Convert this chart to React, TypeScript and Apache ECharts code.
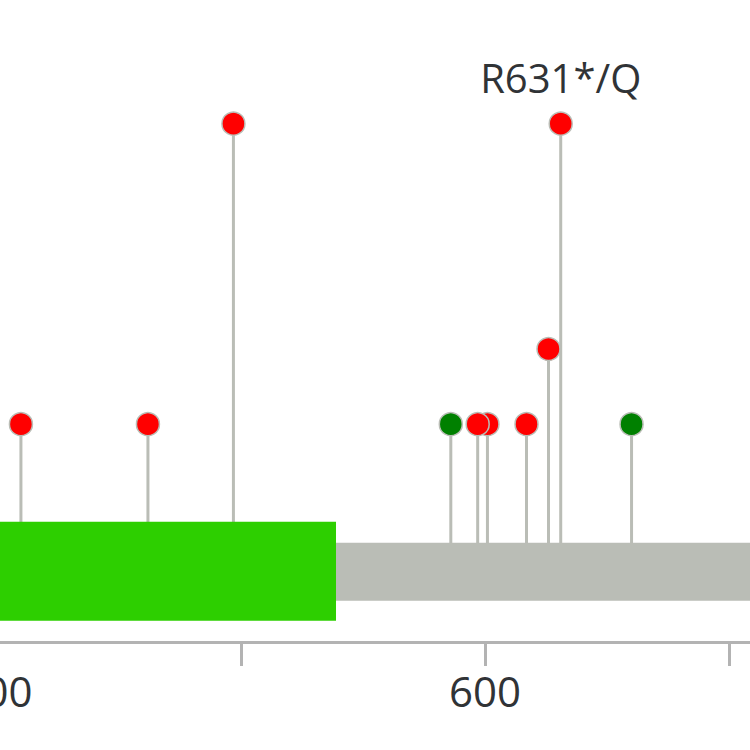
import React, { useEffect, useRef } from "react";
import * as echarts from "echarts";

// Mutation positions (amino acid), counts and types
const mutPositions = [660, 631, 626, 617, 601, 597, 586, 497, 462, 410];
const mutCounts = [1, 5, 2, 1, 1, 1, 1, 5, 1, 1];
const mutTypes = ["inframe", "truncating", "truncating", "truncating", "truncating", "truncating", "inframe", "truncating", "truncating", "truncating"];
const mutLabels = ["", "R631*/Q", "", "", "", "", "", "", "", ""];

// Protein backbone and domain ranges
const proteinRange = [0, 800];
const domainRanges = [[300, 539]];

// X axis ticks
const tickValues = [400, 500, 600, 700, 800];
const labeledTicks = [400, 600, 800];

const COLORS: Record<string, string> = { truncating: "#ff0000", inframe: "#008000" };
const FONT = "'Open Sans', 'DejaVu Sans', sans-serif";

export default function App() {
  const ref = useRef<HTMLDivElement>(null);
  useEffect(() => {
    if (!ref.current) return;
    const chart = echarts.init(ref.current, null, { renderer: "svg" });
    const lollipopData = mutPositions.map((p, i) => [p, mutCounts[i], i]);
    chart.setOption({
      animation: false,
      backgroundColor: "#ffffff",
      grid: { left: -3.5, right: -223.5, top: 41, bottom: 108, containLabel: false, outerBoundsMode: "none" },
      xAxis: {
        type: "value",
        min: tickValues[0],
        max: tickValues[tickValues.length - 1],
        interval: 100,
        splitLine: { show: false },
        axisLine: { show: true, onZero: false, lineStyle: { color: "#b3b3b3", width: 3 } },
        axisTick: { show: true, length: 24, lineStyle: { color: "#b3b3b3", width: 3 } },
        axisLabel: {
          margin: 27,
          fontSize: 42,
          fontFamily: FONT,
          color: "#303336",
          formatter: (v: number) => (labeledTicks.includes(v) ? String(v) : ""),
        },
      },
      yAxis: { type: "value", min: -1.9, max: 6.1, show: false },
      series: [
        {
          type: "custom",
          z: 2,
          data: lollipopData,
          renderItem: (params: any, api: any) => {
            const x = api.value(0);
            const c = api.value(1);
            const idx = api.value(2);
            const top = api.coord([x, c]);
            const base = api.coord([x, 0]);
            const children: any[] = [
              {
                type: "line",
                shape: { x1: top[0], y1: top[1], x2: top[0], y2: base[1] + 50 },
                style: { stroke: "#babdb6", lineWidth: 3 },
              },
              {
                type: "circle",
                shape: { cx: top[0], cy: top[1], r: 11.5 },
                style: { fill: COLORS[mutTypes[idx]], stroke: "#babdb6", lineWidth: 1.5 },
              },
            ];
            if (mutLabels[idx]) {
              children.push({
                type: "text",
                style: {
                  text: mutLabels[idx],
                  x: top[0],
                  y: top[1] - 46,
                  align: "center",
                  verticalAlign: "middle",
                  fontSize: 40,
                  fontFamily: FONT,
                  fill: "#303336",
                },
              });
            }
            return { type: "group", children };
          },
        },
        {
          type: "custom",
          z: 3,
          data: [proteinRange],
          renderItem: (params: any, api: any) => {
            const a = api.coord([api.value(0), 0]);
            const b = api.coord([api.value(1), 0]);
            return {
              type: "rect",
              shape: { x: a[0], y: a[1] + 43.5, width: b[0] - a[0], height: 58 },
              style: { fill: "#babdb6" },
            };
          },
        },
        {
          type: "custom",
          z: 4,
          data: domainRanges,
          renderItem: (params: any, api: any) => {
            const a = api.coord([api.value(0), 0]);
            const b = api.coord([api.value(1), 0]);
            return {
              type: "rect",
              shape: { x: a[0], y: a[1] + 22.5, width: b[0] - a[0], height: 99 },
              style: { fill: "#2dcf00" },
            };
          },
        },
      ],
    });
    return () => chart.dispose();
  }, []);
  return <div ref={ref} style={{ position: "absolute", left: 0, top: 0, width: 750, height: 750 }} />;
}
